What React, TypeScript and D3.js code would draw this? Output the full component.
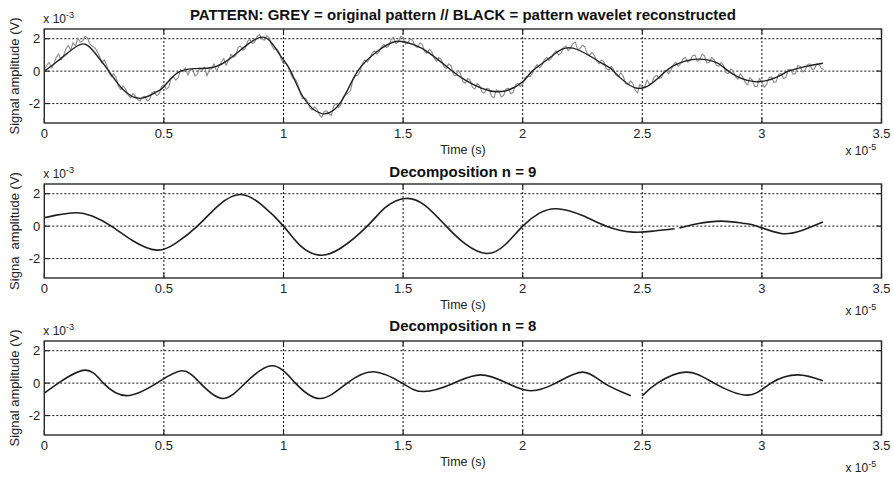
import React from 'react';
import * as d3 from 'd3';

const X_TICKS = [0, 0.5, 1, 1.5, 2, 2.5, 3, 3.5];
const X_TICK_LABELS = ['0', '0.5', '1', '1.5', '2', '2.5', '3', '3.5'];
const Y_TICKS = [-2, 0, 2];
const Y_TICK_LABELS = ['-2', '0', '2'];

const TITLES = [
  'PATTERN: GREY = original pattern // BLACK = pattern wavelet reconstructed',
  'Decomposition n = 9',
  'Decomposition n = 8',
];
const Y_LABELS = ['Signal amplitude (V)', 'Signa  amplitude (V)', 'Signal amplitude (V)'];
const X_LABEL = 'Time (s)';

// original (noisy) pattern, sampled every 0.01 x 1e-5 s starting at 0
const ORIGINAL_STEP = 0.01;
const ORIGINAL = [
  0.10, 0.35, 0.55, 0.20, 0.45, 0.85, 1.05, 0.70, 0.95, 1.35,
  1.60, 1.30, 1.75, 1.55, 2.05, 1.80, 1.85, 2.15, 2.05, 1.70,
  1.55, 1.45, 1.25, 0.95, 0.50, 0.70, 0.40, -0.10, -0.35, -0.15,
  -0.40, -0.95, -1.15, -0.90, -1.10, -1.45, -1.65, -1.40, -1.50, -1.75,
  -1.85, -1.60, -1.55, -1.85, -1.75, -1.35, -1.25, -1.50, -1.40, -0.95,
  -0.85, -1.10, -1.00, -0.45, -0.35, -0.55, -0.40, 0.10, -0.05, 0.20,
  -0.25, 0.05, 0.10, -0.30, -0.20, 0.20, 0.05, 0.25, -0.30, 0.10,
  0.15, 0.45, 0.00, 0.30, 0.55, 0.80, 0.35, 0.65, 1.05, 0.85,
  0.95, 1.45, 1.55, 1.30, 1.40, 1.85, 1.95, 1.70, 1.80, 2.15,
  2.25, 2.00, 1.90, 2.20, 2.05, 1.60, 1.35, 1.40, 1.20, 0.75,
  0.45, 0.50, 0.30, -0.15, -0.45, -0.50, -0.80, -1.35, -1.70, -1.65,
  -1.85, -2.25, -2.40, -2.20, -2.35, -2.70, -2.85, -2.50, -2.45, -2.60,
  -2.75, -2.15, -2.00, -2.25, -2.05, -1.60, -1.45, -1.35, -1.20, -0.55,
  -0.30, -0.25, 0.00, 0.45, 0.70, 0.55, 0.75, 1.10, 1.25, 1.05,
  1.20, 1.50, 1.65, 1.45, 1.55, 1.95, 2.10, 1.70, 1.80, 2.15,
  2.05, 1.65, 1.75, 2.00, 1.90, 1.55, 1.45, 1.75, 1.65, 1.20,
  1.10, 1.35, 1.20, 0.80, 0.60, 0.85, 0.70, 0.30, 0.15, 0.45,
  0.35, -0.20, -0.30, 0.05, -0.15, -0.65, -0.75, -0.45, -0.55, -1.00,
  -1.10, -0.75, -0.90, -1.30, -1.35, -1.05, -1.10, -1.55, -1.65, -1.15,
  -1.20, -1.60, -1.50, -1.10, -1.05, -1.40, -1.30, -0.85, -0.75, -0.95,
  -0.80, -0.40, -0.30, -0.35, -0.15, 0.20, 0.40, 0.20, 0.35, 0.70,
  0.85, 0.65, 0.80, 1.10, 1.25, 1.00, 1.10, 1.45, 1.55, 1.25,
  1.45, 1.70, 1.80, 1.30, 1.40, 1.60, 1.50, 1.05, 1.00, 1.15,
  0.95, 0.60, 0.45, 0.70, 0.55, 0.15, 0.05, 0.30, 0.10, -0.25,
  -0.35, -0.10, -0.30, -0.75, -0.85, -0.60, -0.75, -1.15, -1.35, -0.80,
  -1.00, -0.95, -0.55, -0.80, -0.75, -0.35, -0.25, -0.45, -0.40, 0.00,
  0.05, -0.15, 0.05, 0.40, 0.55, 0.30, 0.45, 0.75, 0.85, 0.55,
  0.65, 0.95, 1.00, 0.60, 0.70, 1.05, 0.95, 0.50, 0.55, 0.85,
  0.70, 0.35, 0.30, 0.55, 0.35, -0.10, -0.15, 0.15, 0.00, -0.35,
  -0.50, -0.15, -0.35, -0.70, -0.85, -0.40, -0.55, -0.95, -0.95, -0.45,
  -0.70, -1.00, -0.80, -0.40, -0.35, -0.70, -0.65, -0.20, -0.15, -0.45,
  -0.40, 0.10, 0.10, -0.20, -0.15, 0.35, 0.30, -0.05, 0.05, 0.40,
  0.45, 0.10, 0.15, 0.45, 0.40, 0.15, 0.10,
];

// wavelet reconstructed pattern (black)
const RECON_T = [
  0.00, 0.05, 0.10, 0.16, 0.21, 0.27, 0.33, 0.40, 0.46, 0.50,
  0.57, 0.68, 0.76, 0.85, 0.91, 0.95, 0.99, 1.03, 1.08, 1.16,
  1.24, 1.31, 1.39, 1.47, 1.55, 1.61, 1.70, 1.76, 1.89, 2.00,
  2.04, 2.12, 2.21, 2.33, 2.38, 2.48, 2.58, 2.64, 2.73, 2.815,
  2.86, 2.97, 3.08, 3.11, 3.18, 3.255,
];
const RECON_V = [
  0.00, 0.55, 1.15, 1.68, 1.15, 0.00, -1.15, -1.68, -1.35, -0.96,
  0.00, 0.18, 0.60, 1.65, 2.10, 1.75, 0.90, 0.00, -1.55, -2.62,
  -1.90, 0.00, 1.20, 1.83, 1.60, 1.11, 0.07, -0.55, -1.27, -0.65,
  0.00, 0.90, 1.42, 0.49, 0.00, -1.06, -0.24, 0.40, 0.74, 0.49,
  0.00, -0.65, -0.24, 0.00, 0.28, 0.49,
];

// decomposition n = 9 (NaN = break in the trace)
const N9_T = [
  0.00, 0.05, 0.13, 0.20, 0.28, 0.37, 0.47, 0.55, 0.64, 0.73,
  0.82, 0.91, 1.00, 1.07, 1.15, 1.24, 1.35, 1.43, 1.51, 1.59,
  1.68, 1.76, 1.85, 1.93, 2.00, 2.07, 2.145, 2.25, 2.35, 2.46,
  2.55, 2.635, 2.645, 2.655, 2.73, 2.83, 2.92, 2.98, 3.08, 3.17,
  3.255,
];
const N9_V = [
  0.52, 0.68, 0.83, 0.62, 0.00, -0.90, -1.48, -1.05, 0.00, 1.30,
  1.95, 1.30, 0.00, -1.20, -1.79, -1.35, 0.00, 1.20, 1.71, 1.30,
  0.00, -1.10, -1.69, -1.10, 0.00, 0.80, 1.07, 0.65, 0.00, -0.37,
  -0.30, -0.16, NaN, -0.12, 0.15, 0.31, 0.18, 0.00, -0.45, -0.25,
  0.25,
];

// decomposition n = 8
const N8_T = [
  0.00, 0.059, 0.17, 0.247, 0.345, 0.47, 0.575, 0.652, 0.745, 0.84,
  0.952, 1.05, 1.154, 1.266, 1.377, 1.496, 1.587, 1.712, 1.824, 1.935,
  2.033, 2.138, 2.25, 2.34, 2.452, 2.475, 2.50, 2.563, 2.682, 2.80,
  2.94, 3.038, 3.15, 3.255,
];
const N8_V = [
  -0.62, 0.00, 0.80, 0.00, -0.77, 0.00, 0.76, 0.00, -0.95, 0.00,
  1.07, 0.00, -0.95, 0.00, 0.70, 0.00, -0.52, 0.00, 0.51, 0.00,
  -0.47, 0.00, 0.68, 0.00, -0.78, NaN, -0.78, 0.00, 0.68, 0.00,
  -0.74, 0.00, 0.51, 0.14,
];

const W = 893;
const H = 477;
const LEFT = 44.3;
const RIGHT = 881.5;
const PANEL_TOPS = [29, 184, 341];
const PANEL_H = 94;
const TITLE_Y = [20, 177, 331];
const X10_5_DY = [32, 37, 37];
const FONT = 'Liberation Sans, Arial, Helvetica, sans-serif';

type Pt = [number, number];

function zipPts(t: number[], v: number[]): Pt[] {
  return t.map((tt, i) => [tt, v[i]] as Pt);
}

function Panel({ idx, series }: { idx: number; series: { pts: Pt[]; color: string; width: number; smooth: boolean }[] }) {
  const top = PANEL_TOPS[idx];
  const bottom = top + PANEL_H;
  const x = d3.scaleLinear().domain([0, 3.5]).range([LEFT, RIGHT]);
  const y = d3.scaleLinear().domain([-3.2, 2.6]).range([bottom, top]);
  const tickLen = 5;
  return (
    <g>
      {X_TICKS.filter((t) => t > 0 && t < 3.5).map((t) => (
        <line key={'gx' + t} x1={x(t)} x2={x(t)} y1={top} y2={bottom} stroke="#111" strokeWidth={1} strokeDasharray="2,2" />
      ))}
      {Y_TICKS.map((v) => (
        <line key={'gy' + v} x1={LEFT} x2={RIGHT} y1={y(v)} y2={y(v)} stroke="#111" strokeWidth={1} strokeDasharray="2,2" />
      ))}
      {X_TICKS.map((t) => (
        <g key={'tx' + t}>
          <line x1={x(t)} x2={x(t)} y1={bottom} y2={bottom - tickLen} stroke="#222" strokeWidth={1.2} />
          <line x1={x(t)} x2={x(t)} y1={top} y2={top + tickLen} stroke="#222" strokeWidth={1.2} />
        </g>
      ))}
      {Y_TICKS.map((v) => (
        <g key={'ty' + v}>
          <line x1={LEFT} x2={LEFT + tickLen} y1={y(v)} y2={y(v)} stroke="#222" strokeWidth={1.2} />
          <line x1={RIGHT} x2={RIGHT - tickLen} y1={y(v)} y2={y(v)} stroke="#222" strokeWidth={1.2} />
        </g>
      ))}
      {series.map((s, i) => {
        const line = d3
          .line<Pt>()
          .defined((d) => !isNaN(d[1]))
          .x((d) => x(d[0]))
          .y((d) => y(d[1]))
          .curve(s.smooth ? d3.curveNatural : d3.curveLinear);
        return <path key={i} d={line(s.pts) || ''} fill="none" stroke={s.color} strokeWidth={s.width} strokeLinejoin="round" />;
      })}
      <rect x={LEFT} y={top} width={RIGHT - LEFT} height={PANEL_H} fill="none" stroke="#2a2a2a" strokeWidth={1.4} />
      {X_TICKS.map((t, i) => (
        <text key={'lx' + t} x={x(t)} y={bottom + 15} textAnchor="middle" fontSize={13} fill="#222" fontFamily={FONT}>
          {X_TICK_LABELS[i]}
        </text>
      ))}
      {Y_TICKS.map((v, i) => (
        <text key={'ly' + v} x={LEFT - 4} y={y(v) + 4.5} textAnchor="end" fontSize={13} fill="#222" fontFamily={FONT}>
          {Y_TICK_LABELS[i]}
        </text>
      ))}
      <text x={LEFT - 1} y={top - 6} fontSize={12} fill="#222" fontFamily={FONT}>
        x 10<tspan dy={-5} fontSize={9}>-3</tspan>
      </text>
      <text x={RIGHT - 36} y={bottom + X10_5_DY[idx]} fontSize={12} fill="#222" fontFamily={FONT}>
        x 10<tspan dy={-5} fontSize={9}>-5</tspan>
      </text>
      <text x={(LEFT + RIGHT) / 2} y={TITLE_Y[idx]} textAnchor="middle" fontSize={15} fontWeight="bold" fill="#111" fontFamily={FONT}>
        {TITLES[idx]}
      </text>
      <text x={(LEFT + RIGHT) / 2} y={bottom + 31} textAnchor="middle" fontSize={12.5} fill="#222" fontFamily={FONT}>
        {X_LABEL}
      </text>
      <text
        transform={`translate(19, ${top + PANEL_H / 2}) rotate(-90)`}
        textAnchor="middle"
        fontSize={13}
        fill="#222"
        fontFamily={FONT}
        style={{ whiteSpace: 'pre' }}
      >
        {Y_LABELS[idx]}
      </text>
    </g>
  );
}

export default function App() {
  const originalPts: Pt[] = ORIGINAL.map((v, i) => [i * ORIGINAL_STEP, v]);
  const reconPts = zipPts(RECON_T, RECON_V);
  const n9Pts = zipPts(N9_T, N9_V);
  const n8Pts = zipPts(N8_T, N8_V);
  return (
    <svg width={W} height={H} viewBox={`0 0 ${W} ${H}`} style={{ position: 'absolute', left: 0, top: 0, background: '#fff' }}>
      <rect x={0} y={0} width={W} height={H} fill="#fff" />
      <Panel
        idx={0}
        series={[
          { pts: originalPts, color: '#8c8c8c', width: 1.1, smooth: false },
          { pts: reconPts, color: '#222', width: 1.4, smooth: true },
        ]}
      />
      <Panel idx={1} series={[{ pts: n9Pts, color: '#1e1e1e', width: 1.6, smooth: true }]} />
      <Panel idx={2} series={[{ pts: n8Pts, color: '#1e1e1e', width: 1.6, smooth: true }]} />
    </svg>
  );
}
